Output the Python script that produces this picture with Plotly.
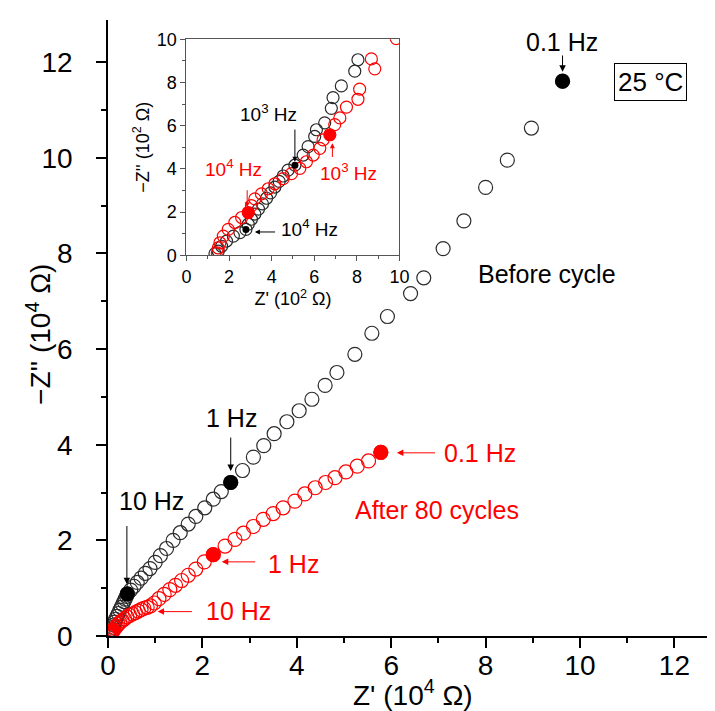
import plotly.graph_objects as go

# ---------------- data: main plot (units 1e4 ohm) ----------------
before_zre = [0.03, 0.05, 0.07, 0.10, 0.12, 0.14, 0.16, 0.19, 0.22, 0.25, 0.28, 0.31, 0.34, 0.36,
              0.39, 0.41, 0.48, 0.55, 0.62, 0.70, 0.79, 0.89, 1.00,
              1.11, 1.24, 1.38, 1.53, 1.70, 1.86, 2.05, 2.23, 2.40, 2.60, 2.85, 3.08, 3.30, 3.52,
              3.79, 4.05, 4.32, 4.60, 4.85, 5.23, 5.59, 5.92, 6.41, 6.69, 7.10, 7.54, 8.00, 8.46,
              8.97, 9.63]
before_zim = [0.06, 0.10, 0.14, 0.18, 0.23, 0.29, 0.35, 0.41, 0.47, 0.54, 0.60, 0.66, 0.72, 0.77,
              0.83, 0.88, 0.96, 1.04, 1.12, 1.21, 1.31, 1.41, 1.54,
              1.68, 1.83, 2.00, 2.16, 2.34, 2.50, 2.68, 2.86, 3.02, 3.21, 3.46, 3.74, 3.98, 4.23,
              4.48, 4.71, 4.95, 5.24, 5.51, 5.89, 6.33, 6.68, 7.16, 7.49, 8.10, 8.68, 9.38, 9.95,
              10.62, 11.60]
after_zre = [0.03, 0.05, 0.07, 0.09, 0.12, 0.15, 0.18, 0.21, 0.25, 0.30, 0.35, 0.40, 0.46, 0.52,
             0.58, 0.64, 0.70, 0.76, 0.83, 0.90, 0.98, 1.08, 1.19, 1.31,
             1.43, 1.56, 1.70, 1.86, 2.04, 2.23, 2.48, 2.69, 2.87, 3.08, 3.29, 3.50, 3.71, 3.96,
             4.17, 4.39, 4.61, 4.81, 5.04, 5.28, 5.52, 5.78]
after_zim = [0.01, 0.04, 0.07, 0.10, 0.13, 0.17, 0.20, 0.24, 0.28, 0.32, 0.36, 0.40, 0.43, 0.46,
             0.49, 0.52, 0.55, 0.58, 0.60, 0.63, 0.69, 0.78, 0.87, 0.97,
             1.06, 1.16, 1.27, 1.40, 1.55, 1.70, 1.88, 2.02, 2.15, 2.29, 2.44, 2.56, 2.68, 2.82,
             2.97, 3.10, 3.21, 3.31, 3.43, 3.55, 3.66, 3.84]
# marked frequencies
before_mark_zre = [0.41, 2.60, 9.63]     # 10 Hz, 1 Hz, 0.1 Hz
before_mark_zim = [0.88, 3.21, 11.60]
after_mark_zre = [2.23, 5.78]            # 1 Hz, 0.1 Hz
after_mark_zim = [1.70, 3.84]

# ---------------- data: inset (units 1e2 ohm) ----------------
in_before_zre = [1.34, 1.49, 1.65, 1.88, 2.20, 2.51, 2.79, 2.90, 3.05, 3.21, 3.38, 3.57, 3.76,
                 3.95, 4.15, 4.35, 4.54, 4.77, 5.09, 5.48, 5.71, 6.02, 6.10, 6.49, 6.80, 6.88,
                 7.27, 7.90, 8.05]
in_before_zim = [0.08, 0.19, 0.42, 0.66, 0.89, 1.05, 1.20, 1.44, 1.67, 1.91, 2.14, 2.38, 2.64,
                 2.89, 3.16, 3.42, 3.67, 3.94, 4.17, 4.64, 5.03, 5.50, 5.81, 6.13, 6.80, 7.30,
                 7.84, 8.52, 9.05]
in_after_zre = [1.45, 1.49, 1.57, 1.73, 1.96, 2.27, 2.59, 2.90, 3.05, 3.21, 3.52, 3.84, 4.15,
                4.54, 4.93, 5.32, 5.63, 5.95, 6.26, 6.41, 6.73, 6.96, 7.20, 7.51, 8.05, 8.13,
                8.84, 8.68, 9.85]
in_after_zim = [0.11, 0.34, 0.58, 0.89, 1.20, 1.52, 1.75, 1.98, 2.30, 2.61, 2.84, 3.08, 3.31,
                3.55, 3.78, 4.02, 4.33, 4.64, 4.95, 5.34, 5.58, 6.05, 6.36, 6.86, 7.22, 7.69,
                8.63, 9.09, 10.03]
# marked frequencies (1e4 Hz, 1e3 Hz)
in_before_mark_zre = [2.79, 5.09]
in_before_mark_zim = [1.20, 4.17]
in_after_mark_zre = [2.90, 6.73]
in_after_mark_zim = [1.98, 5.58]

BLACK = "#2b2b2b"
RED = "#ff0000"
FONT = "Liberation Sans, Arial, sans-serif"

fig = go.Figure()


def open_trace(x, y, color, size, xa, ya):
    return go.Scatter(x=x, y=y, mode="markers", xaxis=xa, yaxis=ya, showlegend=False,
                      marker=dict(symbol="circle-open", size=size, color=color,
                                  line=dict(width=1.2, color=color)))


def fill_trace(x, y, color, size, xa, ya):
    return go.Scatter(x=x, y=y, mode="markers", xaxis=xa, yaxis=ya, showlegend=False,
                      marker=dict(symbol="circle", size=size, color=color,
                                  line=dict(width=0)))


# main: high-frequency part (inset data converted to 1e4 ohm) + rest
fig.add_trace(open_trace([v / 100 for v in in_before_zre] + before_zre,
                         [v / 100 for v in in_before_zim] + before_zim, BLACK, 14, "x", "y"))
fig.add_trace(open_trace([v / 100 for v in in_after_zre] + after_zre,
                         [v / 100 for v in in_after_zim] + after_zim, RED, 14, "x", "y"))
fig.add_trace(fill_trace(before_mark_zre, before_mark_zim, "black", 15, "x", "y"))
fig.add_trace(fill_trace(after_mark_zre, after_mark_zim, RED, 15, "x", "y"))

# inset
fig.add_trace(open_trace(in_before_zre, in_before_zim, BLACK, 12, "x2", "y2"))
fig.add_trace(open_trace(in_after_zre, in_after_zim, RED, 12, "x2", "y2"))
fig.add_trace(fill_trace(in_before_mark_zre, in_before_mark_zim, "black", 7, "x2", "y2"))
fig.add_trace(fill_trace(in_after_mark_zre, in_after_mark_zim, RED, 12, "x2", "y2"))

axis_common = dict(showgrid=False, zeroline=False, showline=True, linecolor="black",
                   linewidth=1.5, ticks="outside", tickcolor="black", tickwidth=1.5,
                   automargin=False,
                   tickfont=dict(family=FONT, size=28, color="black"))

inset_common = dict(range=[0, 10], dtick=2, ticklen=5, automargin=False,
                    showgrid=False, zeroline=False, showline=True, linecolor="#555555",
                    linewidth=1, mirror=True, ticks="outside", tickcolor="#555555",
                    minor=dict(dtick=1, ticklen=3, ticks="outside", tickcolor="#555555"),
                    tickfont=dict(family=FONT, size=18, color="black"))

# page body has an 8 px margin: figure is 8 px smaller and margins reduced accordingly
fig.update_layout(
    width=707, height=703,
    margin=dict(l=100, r=0, t=12, b=75),
    paper_bgcolor="white", plot_bgcolor="white",
    font=dict(family=FONT, color="black"),
    xaxis=dict(range=[0, 12.86], dtick=2, ticklen=10, ticklabelstandoff=-6,
               minor=dict(dtick=1, ticklen=5, ticks="outside", tickcolor="black", tickwidth=1.5),
               **axis_common),
    yaxis=dict(range=[0, 12.88], dtick=2, ticklen=10, ticklabelstandoff=18,
               minor=dict(dtick=1, ticklen=5, ticks="outside", tickcolor="black", tickwidth=1.5),
               **axis_common),
    xaxis2=dict(domain=[0.1293, 0.4802], anchor="y2",
                title=dict(text="Z' (10<sup>2</sup> Ω)", font=dict(size=18), standoff=4),
                **inset_common),
    yaxis2=dict(domain=[0.618, 0.9688], anchor="x2",
                title=dict(text="−Z'' (10<sup>2</sup> Ω)", font=dict(size=18), standoff=2),
                **inset_common),
)

ann = []


def text(x, y, s, color="black", size=25, xr="x", yr="y", **kw):
    d = dict(x=x, y=y, xref=xr, yref=yr, text=s, showarrow=False,
             xanchor="center", yanchor="middle",
             font=dict(family=FONT, size=size, color=color))
    d.update(kw)
    ann.append(d)


def arrow(x, y, ax, ay, color="black", xr="x", yr="y", size=1.3):
    ann.append(dict(x=x, y=y, ax=ax, ay=ay, xref=xr, yref=yr, axref=xr, ayref=yr,
                    text="", showarrow=True, arrowhead=2, arrowsize=size, arrowwidth=1,
                    arrowcolor=color))


# main axis titles
text(0.5025, -0.092, "Z' (10<sup>4</sup> Ω)", size=28, xr="paper", yr="paper")
text(-0.114, 0.49, "−Z'' (10<sup>4</sup> Ω)", size=28, xr="paper", yr="paper", textangle=-90)

# main annotations
text(9.62, 12.42, "0.1 Hz")
arrow(9.63, 11.80, 9.63, 12.17)
text(11.5, 11.59, "25 °C", size=26, bordercolor="black", borderwidth=1, borderpad=3)
text(9.30, 7.56, "Before cycle")
text(2.61, 4.56, "1 Hz")
arrow(2.60, 3.45, 2.60, 4.18)
text(0.92, 2.82, "10 Hz")
arrow(0.40, 1.08, 0.40, 2.33)
text(7.88, 3.82, "0.1 Hz", color=RED)
arrow(6.12, 3.83, 6.96, 3.83, color=RED)
text(6.96, 2.63, "After 80 cycles", color=RED)
text(3.93, 1.51, "1 Hz", color=RED)
arrow(2.41, 1.55, 3.15, 1.55, color=RED)
text(2.76, 0.52, "10 Hz", color=RED)
arrow(1.05, 0.51, 1.81, 0.51, color=RED)

# inset annotations
text(3.84, 6.59, "10<sup>3</sup> Hz", size=19, xr="x2", yr="y2")
arrow(5.09, 4.33, 5.09, 5.89, xr="x2", yr="y2", size=1.0)
text(2.20, 4.02, "10<sup>4</sup> Hz", color=RED, size=19, xr="x2", yr="y2")
arrow(2.85, 2.22, 2.85, 3.08, color=RED, xr="x2", yr="y2", size=1.0)
text(7.59, 3.86, "10<sup>3</sup> Hz", color=RED, size=19, xr="x2", yr="y2")
arrow(6.85, 5.19, 6.85, 4.48, color=RED, xr="x2", yr="y2", size=1.0)
text(5.79, 1.28, "10<sup>4</sup> Hz", size=19, xr="x2", yr="y2")
arrow(3.21, 1.08, 4.23, 1.08, xr="x2", yr="y2", size=1.0)

fig.update_layout(annotations=ann)
fig.write_html("out.html")
